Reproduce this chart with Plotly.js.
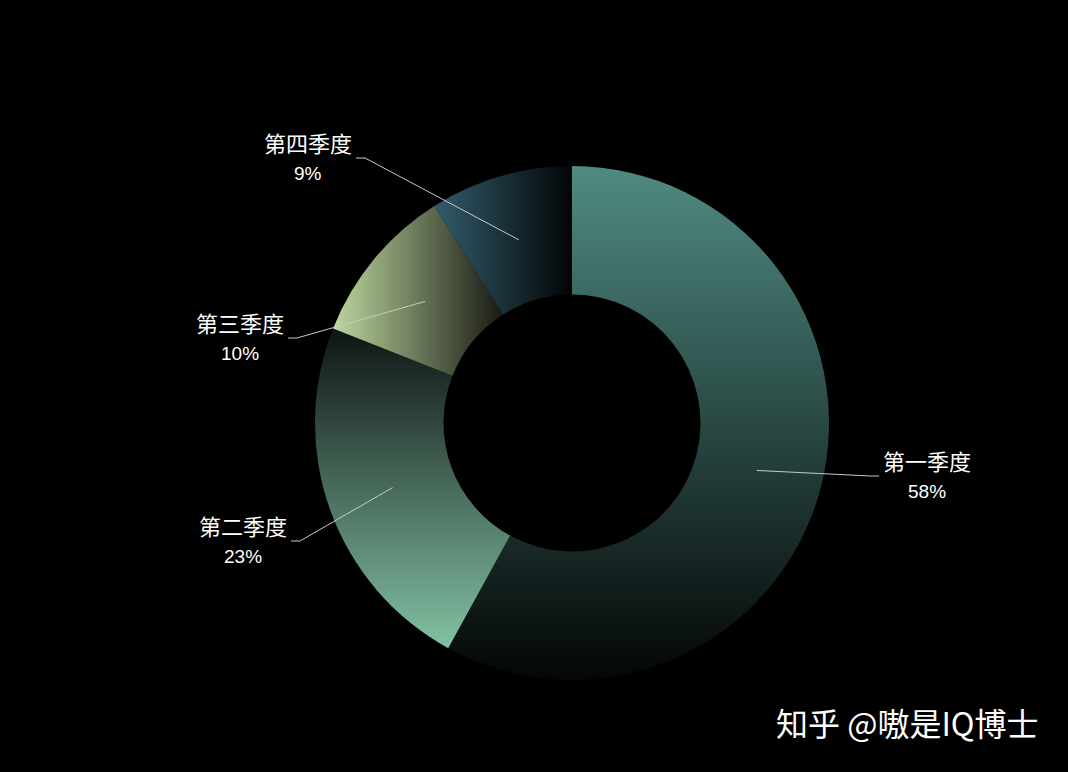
<!DOCTYPE html>
<html>
<head>
<meta charset="utf-8">
<script src="https://cdn.plot.ly/plotly-3.0.1.min.js"></script>
<style>
  html, body { margin: 0; padding: 0; background: #000; }
  #chart { width: 1068px; height: 772px; }
</style>
</head>
<body>
<div id="chart"></div>
<script>
// quarterly share data
const quarters = ['第一季度', '第二季度', '第三季度', '第四季度'];
const shares = [58, 23, 10, 9];

// gradient stops per slice: [x1, y1, x2, y2, startColor, endColor]
const sliceGradients = [
    [0, 0, 0, 1, '#4f8b82', '#040606'],
    [0, 0, 0, 1, '#0e1412', '#82c1a4'],
    [0, 0, 1, 0, '#bcd79e', '#191914'],
    [0, 0, 1, 0, '#325c6c', '#030405']
];

// where each label's leader line bends, in px from the pie centre
const labelElbows = [[298, 53], [-272, 118], [-275, -85], [-207, -265]];

const W = 1068, H = 772;
const CX = 572, CY = 423, R = 257, HOLE = 0.5;

const total = shares.reduce((a, b) => a + b, 0);

// helpers: pixel -> paper
const px = x => x / W;
const py = y => 1 - y / H;

let shapes = [];
let annotations = [];
let cum = 0;
shares.forEach((v, i) => {
    let mid = (cum + v / 2) / total * 2 * Math.PI;
    cum += v;
    let rMid = R * (1 + HOLE) / 2 - 2;
    let sx = CX + rMid * Math.sin(mid);
    let sy = CY - rMid * Math.cos(mid);
    let ex = CX + labelElbows[i][0];
    let ey = CY + labelElbows[i][1];
    let side = labelElbows[i][0] > 0 ? 1 : -1;
    let tx = ex + side * 9;

    shapes.push({
        type: 'path', xref: 'paper', yref: 'paper',
        path: 'M' + px(sx) + ',' + py(sy) + ' L' + px(ex) + ',' + py(ey) + ' L' + px(tx) + ',' + py(ey),
        line: {color: '#c9c9c9', width: 1}
    });

    let cx = tx + side * 48;
    annotations.push({
        xref: 'paper', yref: 'paper', x: px(cx), y: py(ey - 16),
        text: quarters[i], showarrow: false, xanchor: 'center', yanchor: 'middle',
        font: {family: 'Noto Sans CJK SC, sans-serif', size: 22, color: '#ffffff'}
    });
    annotations.push({
        xref: 'paper', yref: 'paper', x: px(cx), y: py(ey + 15),
        text: Math.round(v / total * 100) + '%', showarrow: false, xanchor: 'center', yanchor: 'middle',
        font: {family: 'Liberation Sans, Arial, sans-serif', size: 19, color: '#ffffff'}
    });
});

// watermark
annotations.push({
    xref: 'paper', yref: 'paper', x: px(907), y: py(722),
    text: '知乎 @嗷是IQ博士', showarrow: false, xanchor: 'center', yanchor: 'middle',
    font: {family: 'Noto Sans CJK SC, sans-serif', size: 32, color: '#ffffff'}
});

const trace = {
    type: 'pie',
    labels: quarters,
    values: shares,
    hole: HOLE,
    sort: false,
    direction: 'clockwise',
    rotation: 0,
    textinfo: 'none',
    hoverinfo: 'none',
    marker: {
        colors: sliceGradients.map(g => g[4]),
        line: {width: 0}
    },
    domain: {
        x: [(CX - R) / W, (CX + R) / W],
        y: [py(CY + R), py(CY - R)]
    }
};

const layout = {
    width: W,
    height: H,
    margin: {l: 0, r: 0, t: 0, b: 0},
    paper_bgcolor: '#000000',
    plot_bgcolor: '#000000',
    showlegend: false,
    shapes: shapes,
    annotations: annotations
};

Plotly.newPlot('chart', [trace], layout, {staticPlot: true, displayModeBar: false}).then(gd => {
    // plotly pies have no gradient fill, so add svg gradients and point the slices at them
    const svgNS = 'http://www.w3.org/2000/svg';
    const svg = gd.querySelector('svg.main-svg');
    let defs = svg.querySelector('defs');
    if (!defs) {
        defs = document.createElementNS(svgNS, 'defs');
        svg.insertBefore(defs, svg.firstChild);
    }
    sliceGradients.forEach((g, i) => {
        let lg = document.createElementNS(svgNS, 'linearGradient');
        lg.setAttribute('id', 'sliceGrad' + i);
        lg.setAttribute('x1', g[0]);
        lg.setAttribute('y1', g[1]);
        lg.setAttribute('x2', g[2]);
        lg.setAttribute('y2', g[3]);
        [[0, g[4]], [1, g[5]]].forEach(s => {
            let stop = document.createElementNS(svgNS, 'stop');
            stop.setAttribute('offset', s[0]);
            stop.setAttribute('stop-color', s[1]);
            lg.appendChild(stop);
        });
        defs.appendChild(lg);
    });
    gd.querySelectorAll('g.slice').forEach((slice, i) => {
        let path = slice.querySelector('path.surface');
        if (path) path.style.fill = 'url(#sliceGrad' + i + ')';
    });
});
</script>
</body>
</html>
